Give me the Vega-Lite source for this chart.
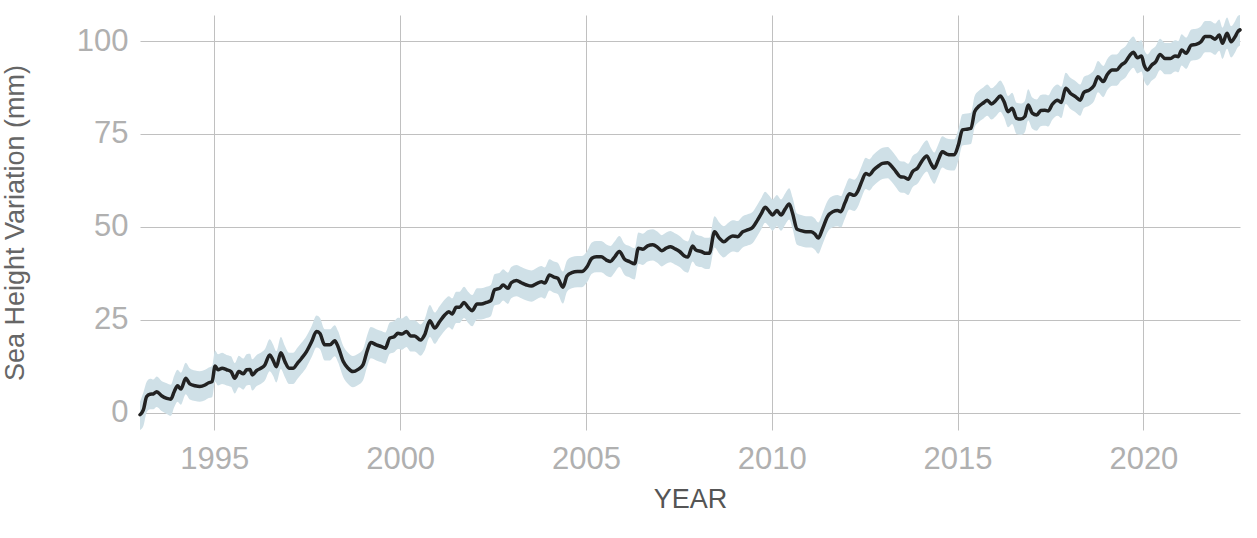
{
  "$schema": "https://vega.github.io/schema/vega-lite/v6.json",
  "width": 1100,
  "height": 415,
  "autosize": {"type": "none"},
  "padding": {"left": 140, "top": 15, "right": 17, "bottom": 93},
  "background": "white",
  "config": {
    "view": {"stroke": null},
    "font": "Liberation Sans",
    "axis": {
      "grid": true,
      "gridColor": "#c0c0c0",
      "gridWidth": 1,
      "domain": false,
      "ticks": false,
      "labelFont": "Liberation Sans",
      "labelFontSize": 31,
      "labelColor": "#b0b0b0",
      "titleFont": "Liberation Sans",
      "titleFontSize": 27,
      "titleFontWeight": "normal"
    }
  },
  "data": {
    "values": [
      {"t": 1993.00, "v": -0.5, "lo": -4.6, "hi": 3.0},
      {"t": 1993.09, "v": 0.8, "lo": -3.5, "hi": 5.5},
      {"t": 1993.18, "v": 4.4, "lo": 0.2, "hi": 8.4},
      {"t": 1993.27, "v": 5.0, "lo": 1.0, "hi": 9.2},
      {"t": 1993.36, "v": 5.1, "lo": 1.0, "hi": 9.0},
      {"t": 1993.45, "v": 5.7, "lo": 1.6, "hi": 9.8},
      {"t": 1993.58, "v": 4.6, "lo": 0.5, "hi": 8.6},
      {"t": 1993.72, "v": 3.9, "lo": -0.3, "hi": 8.0},
      {"t": 1993.83, "v": 3.7, "lo": -0.8, "hi": 7.6},
      {"t": 1993.92, "v": 5.7, "lo": 1.5, "hi": 10.0},
      {"t": 1994.01, "v": 7.3, "lo": 3.0, "hi": 11.6},
      {"t": 1994.10, "v": 6.4, "lo": 2.2, "hi": 10.8},
      {"t": 1994.23, "v": 9.3, "lo": 5.0, "hi": 13.5},
      {"t": 1994.34, "v": 7.8, "lo": 3.6, "hi": 12.0},
      {"t": 1994.48, "v": 7.3, "lo": 3.2, "hi": 11.4},
      {"t": 1994.61, "v": 7.1, "lo": 3.0, "hi": 11.2},
      {"t": 1994.75, "v": 7.5, "lo": 3.4, "hi": 11.6},
      {"t": 1994.85, "v": 8.1, "lo": 4.0, "hi": 12.2},
      {"t": 1994.94, "v": 8.4, "lo": 4.2, "hi": 12.6},
      {"t": 1995.02, "v": 12.6, "lo": 8.4, "hi": 16.8},
      {"t": 1995.10, "v": 11.6, "lo": 7.4, "hi": 15.8},
      {"t": 1995.21, "v": 12.0, "lo": 7.8, "hi": 16.2},
      {"t": 1995.33, "v": 11.6, "lo": 7.4, "hi": 15.6},
      {"t": 1995.45, "v": 11.1, "lo": 7.0, "hi": 15.2},
      {"t": 1995.55, "v": 9.3, "lo": 5.2, "hi": 13.4},
      {"t": 1995.66, "v": 11.1, "lo": 6.9, "hi": 15.4},
      {"t": 1995.78, "v": 10.5, "lo": 6.3, "hi": 14.6},
      {"t": 1995.87, "v": 11.6, "lo": 7.4, "hi": 15.8},
      {"t": 1995.96, "v": 11.7, "lo": 7.5, "hi": 15.9},
      {"t": 1996.02, "v": 10.2, "lo": 6.0, "hi": 14.4},
      {"t": 1996.14, "v": 11.4, "lo": 7.2, "hi": 15.6},
      {"t": 1996.25, "v": 12.0, "lo": 7.8, "hi": 16.2},
      {"t": 1996.36, "v": 12.9, "lo": 8.7, "hi": 17.1},
      {"t": 1996.49, "v": 15.6, "lo": 11.2, "hi": 19.8},
      {"t": 1996.58, "v": 14.2, "lo": 10.0, "hi": 18.4},
      {"t": 1996.67, "v": 12.4, "lo": 8.2, "hi": 16.6},
      {"t": 1996.79, "v": 16.2, "lo": 11.8, "hi": 20.4},
      {"t": 1996.90, "v": 13.8, "lo": 9.6, "hi": 18.0},
      {"t": 1997.01, "v": 12.0, "lo": 7.8, "hi": 16.2},
      {"t": 1997.12, "v": 12.0, "lo": 7.8, "hi": 16.2},
      {"t": 1997.24, "v": 13.4, "lo": 9.2, "hi": 17.6},
      {"t": 1997.35, "v": 14.7, "lo": 10.5, "hi": 18.9},
      {"t": 1997.48, "v": 16.5, "lo": 12.3, "hi": 20.7},
      {"t": 1997.62, "v": 19.2, "lo": 15.0, "hi": 23.4},
      {"t": 1997.75, "v": 21.9, "lo": 17.6, "hi": 26.2},
      {"t": 1997.84, "v": 21.4, "lo": 17.2, "hi": 25.6},
      {"t": 1997.97, "v": 18.3, "lo": 14.1, "hi": 22.5},
      {"t": 1998.11, "v": 18.3, "lo": 14.1, "hi": 22.5},
      {"t": 1998.24, "v": 19.4, "lo": 15.2, "hi": 23.6},
      {"t": 1998.33, "v": 17.8, "lo": 13.6, "hi": 22.0},
      {"t": 1998.47, "v": 13.8, "lo": 9.6, "hi": 18.0},
      {"t": 1998.60, "v": 12.0, "lo": 7.8, "hi": 16.2},
      {"t": 1998.73, "v": 11.1, "lo": 6.9, "hi": 15.3},
      {"t": 1998.87, "v": 11.7, "lo": 7.5, "hi": 15.9},
      {"t": 1999.00, "v": 12.9, "lo": 8.7, "hi": 17.1},
      {"t": 1999.12, "v": 16.9, "lo": 12.7, "hi": 21.1},
      {"t": 1999.21, "v": 18.9, "lo": 14.7, "hi": 23.1},
      {"t": 1999.36, "v": 18.3, "lo": 14.1, "hi": 22.5},
      {"t": 1999.50, "v": 17.8, "lo": 13.6, "hi": 22.0},
      {"t": 1999.60, "v": 17.4, "lo": 13.2, "hi": 21.6},
      {"t": 1999.72, "v": 20.1, "lo": 15.9, "hi": 24.3},
      {"t": 1999.84, "v": 20.5, "lo": 16.3, "hi": 24.7},
      {"t": 1999.94, "v": 21.4, "lo": 17.2, "hi": 25.6},
      {"t": 2000.05, "v": 21.2, "lo": 17.0, "hi": 25.4},
      {"t": 2000.17, "v": 21.9, "lo": 17.7, "hi": 26.1},
      {"t": 2000.28, "v": 20.7, "lo": 16.5, "hi": 24.9},
      {"t": 2000.39, "v": 20.7, "lo": 16.5, "hi": 24.9},
      {"t": 2000.55, "v": 19.6, "lo": 15.4, "hi": 23.8},
      {"t": 2000.66, "v": 21.0, "lo": 16.8, "hi": 25.2},
      {"t": 2000.80, "v": 24.8, "lo": 20.4, "hi": 29.0},
      {"t": 2000.93, "v": 22.8, "lo": 18.6, "hi": 27.0},
      {"t": 2001.06, "v": 24.5, "lo": 20.3, "hi": 28.7},
      {"t": 2001.20, "v": 26.3, "lo": 22.1, "hi": 30.5},
      {"t": 2001.31, "v": 27.2, "lo": 23.0, "hi": 31.4},
      {"t": 2001.40, "v": 26.6, "lo": 22.4, "hi": 30.8},
      {"t": 2001.51, "v": 28.4, "lo": 24.2, "hi": 32.6},
      {"t": 2001.60, "v": 28.4, "lo": 24.2, "hi": 32.6},
      {"t": 2001.72, "v": 29.7, "lo": 25.5, "hi": 33.9},
      {"t": 2001.83, "v": 28.4, "lo": 24.2, "hi": 32.6},
      {"t": 2001.94, "v": 27.5, "lo": 23.3, "hi": 31.7},
      {"t": 2002.07, "v": 29.3, "lo": 25.1, "hi": 33.5},
      {"t": 2002.18, "v": 29.3, "lo": 25.1, "hi": 33.5},
      {"t": 2002.32, "v": 29.7, "lo": 25.5, "hi": 33.9},
      {"t": 2002.44, "v": 30.2, "lo": 26.0, "hi": 34.4},
      {"t": 2002.54, "v": 33.1, "lo": 28.9, "hi": 37.3},
      {"t": 2002.68, "v": 33.5, "lo": 29.3, "hi": 37.7},
      {"t": 2002.77, "v": 34.4, "lo": 30.2, "hi": 38.6},
      {"t": 2002.90, "v": 33.5, "lo": 29.3, "hi": 37.7},
      {"t": 2002.99, "v": 35.0, "lo": 30.8, "hi": 39.2},
      {"t": 2003.13, "v": 35.6, "lo": 31.4, "hi": 39.8},
      {"t": 2003.26, "v": 35.0, "lo": 30.8, "hi": 39.2},
      {"t": 2003.40, "v": 34.4, "lo": 30.2, "hi": 38.6},
      {"t": 2003.53, "v": 34.1, "lo": 29.9, "hi": 38.3},
      {"t": 2003.66, "v": 34.7, "lo": 30.5, "hi": 38.9},
      {"t": 2003.80, "v": 35.3, "lo": 31.1, "hi": 39.5},
      {"t": 2003.89, "v": 34.9, "lo": 30.7, "hi": 39.1},
      {"t": 2004.02, "v": 37.1, "lo": 32.9, "hi": 41.3},
      {"t": 2004.14, "v": 36.5, "lo": 32.3, "hi": 40.7},
      {"t": 2004.24, "v": 36.2, "lo": 32.0, "hi": 40.4},
      {"t": 2004.38, "v": 33.8, "lo": 29.4, "hi": 38.0},
      {"t": 2004.49, "v": 36.8, "lo": 32.6, "hi": 41.0},
      {"t": 2004.62, "v": 37.7, "lo": 33.5, "hi": 41.9},
      {"t": 2004.77, "v": 38.0, "lo": 33.8, "hi": 42.2},
      {"t": 2004.89, "v": 38.0, "lo": 33.8, "hi": 42.2},
      {"t": 2005.03, "v": 39.3, "lo": 35.1, "hi": 43.5},
      {"t": 2005.16, "v": 41.6, "lo": 37.4, "hi": 45.8},
      {"t": 2005.28, "v": 42.0, "lo": 37.8, "hi": 46.2},
      {"t": 2005.41, "v": 42.0, "lo": 37.8, "hi": 46.2},
      {"t": 2005.55, "v": 41.1, "lo": 36.9, "hi": 45.3},
      {"t": 2005.66, "v": 40.7, "lo": 36.5, "hi": 44.9},
      {"t": 2005.77, "v": 41.9, "lo": 37.7, "hi": 46.1},
      {"t": 2005.90, "v": 43.4, "lo": 39.2, "hi": 47.6},
      {"t": 2006.04, "v": 41.3, "lo": 37.1, "hi": 45.5},
      {"t": 2006.17, "v": 40.7, "lo": 36.5, "hi": 44.9},
      {"t": 2006.31, "v": 40.1, "lo": 35.9, "hi": 44.3},
      {"t": 2006.41, "v": 44.3, "lo": 40.1, "hi": 48.5},
      {"t": 2006.53, "v": 44.0, "lo": 39.8, "hi": 48.2},
      {"t": 2006.66, "v": 44.9, "lo": 40.7, "hi": 49.1},
      {"t": 2006.80, "v": 45.2, "lo": 41.0, "hi": 49.4},
      {"t": 2006.93, "v": 44.5, "lo": 40.3, "hi": 48.7},
      {"t": 2007.04, "v": 43.6, "lo": 39.4, "hi": 47.8},
      {"t": 2007.16, "v": 44.3, "lo": 40.1, "hi": 48.5},
      {"t": 2007.27, "v": 44.7, "lo": 40.5, "hi": 48.9},
      {"t": 2007.38, "v": 44.2, "lo": 40.0, "hi": 48.4},
      {"t": 2007.52, "v": 43.4, "lo": 39.2, "hi": 47.6},
      {"t": 2007.65, "v": 42.2, "lo": 38.0, "hi": 46.4},
      {"t": 2007.74, "v": 41.9, "lo": 37.7, "hi": 46.1},
      {"t": 2007.87, "v": 44.9, "lo": 40.7, "hi": 49.1},
      {"t": 2007.96, "v": 43.8, "lo": 39.6, "hi": 48.0},
      {"t": 2008.10, "v": 43.4, "lo": 39.2, "hi": 47.6},
      {"t": 2008.23, "v": 42.9, "lo": 38.7, "hi": 47.1},
      {"t": 2008.32, "v": 42.9, "lo": 38.7, "hi": 47.1},
      {"t": 2008.46, "v": 48.7, "lo": 44.5, "hi": 52.9},
      {"t": 2008.59, "v": 47.0, "lo": 42.8, "hi": 51.2},
      {"t": 2008.71, "v": 46.0, "lo": 41.8, "hi": 50.2},
      {"t": 2008.84, "v": 47.0, "lo": 42.8, "hi": 51.2},
      {"t": 2008.95, "v": 47.6, "lo": 43.4, "hi": 51.8},
      {"t": 2009.08, "v": 47.4, "lo": 43.2, "hi": 51.6},
      {"t": 2009.22, "v": 48.7, "lo": 44.5, "hi": 52.9},
      {"t": 2009.35, "v": 49.2, "lo": 45.0, "hi": 53.4},
      {"t": 2009.49, "v": 49.9, "lo": 45.7, "hi": 54.1},
      {"t": 2009.62, "v": 51.9, "lo": 47.7, "hi": 56.1},
      {"t": 2009.73, "v": 53.8, "lo": 49.6, "hi": 58.0},
      {"t": 2009.82, "v": 55.3, "lo": 51.1, "hi": 59.5},
      {"t": 2009.94, "v": 54.1, "lo": 49.9, "hi": 58.3},
      {"t": 2010.02, "v": 53.2, "lo": 49.0, "hi": 57.4},
      {"t": 2010.14, "v": 54.4, "lo": 50.2, "hi": 58.6},
      {"t": 2010.25, "v": 53.2, "lo": 49.0, "hi": 57.4},
      {"t": 2010.36, "v": 54.8, "lo": 50.6, "hi": 59.0},
      {"t": 2010.47, "v": 56.2, "lo": 52.0, "hi": 60.4},
      {"t": 2010.56, "v": 53.7, "lo": 49.5, "hi": 57.9},
      {"t": 2010.68, "v": 49.4, "lo": 45.2, "hi": 53.6},
      {"t": 2010.79, "v": 49.0, "lo": 44.8, "hi": 53.2},
      {"t": 2010.92, "v": 48.7, "lo": 44.5, "hi": 52.9},
      {"t": 2011.06, "v": 48.7, "lo": 44.5, "hi": 52.9},
      {"t": 2011.16, "v": 48.1, "lo": 43.9, "hi": 52.3},
      {"t": 2011.25, "v": 47.0, "lo": 42.8, "hi": 51.2},
      {"t": 2011.37, "v": 49.6, "lo": 45.4, "hi": 53.8},
      {"t": 2011.50, "v": 52.8, "lo": 48.6, "hi": 57.0},
      {"t": 2011.64, "v": 54.1, "lo": 49.9, "hi": 58.3},
      {"t": 2011.77, "v": 54.4, "lo": 50.2, "hi": 58.6},
      {"t": 2011.86, "v": 54.1, "lo": 49.9, "hi": 58.3},
      {"t": 2011.97, "v": 56.5, "lo": 52.3, "hi": 60.7},
      {"t": 2012.09, "v": 58.9, "lo": 54.7, "hi": 63.1},
      {"t": 2012.22, "v": 58.5, "lo": 54.3, "hi": 62.7},
      {"t": 2012.31, "v": 59.5, "lo": 55.3, "hi": 63.7},
      {"t": 2012.42, "v": 62.2, "lo": 58.0, "hi": 66.4},
      {"t": 2012.53, "v": 64.4, "lo": 60.2, "hi": 68.6},
      {"t": 2012.62, "v": 64.0, "lo": 59.8, "hi": 68.2},
      {"t": 2012.74, "v": 65.3, "lo": 61.1, "hi": 69.5},
      {"t": 2012.87, "v": 66.4, "lo": 62.2, "hi": 70.6},
      {"t": 2012.98, "v": 67.1, "lo": 62.9, "hi": 71.3},
      {"t": 2013.12, "v": 67.3, "lo": 63.1, "hi": 71.5},
      {"t": 2013.22, "v": 66.4, "lo": 62.2, "hi": 70.6},
      {"t": 2013.34, "v": 64.9, "lo": 60.7, "hi": 69.1},
      {"t": 2013.46, "v": 63.5, "lo": 59.3, "hi": 67.7},
      {"t": 2013.56, "v": 63.4, "lo": 59.2, "hi": 67.6},
      {"t": 2013.67, "v": 62.8, "lo": 58.6, "hi": 67.0},
      {"t": 2013.79, "v": 64.9, "lo": 60.7, "hi": 69.1},
      {"t": 2013.92, "v": 65.8, "lo": 61.6, "hi": 70.0},
      {"t": 2014.06, "v": 68.0, "lo": 63.8, "hi": 72.2},
      {"t": 2014.17, "v": 69.1, "lo": 64.9, "hi": 73.3},
      {"t": 2014.28, "v": 67.1, "lo": 62.9, "hi": 71.3},
      {"t": 2014.37, "v": 65.8, "lo": 61.6, "hi": 70.0},
      {"t": 2014.48, "v": 68.0, "lo": 63.8, "hi": 72.2},
      {"t": 2014.59, "v": 70.2, "lo": 66.0, "hi": 74.4},
      {"t": 2014.71, "v": 69.6, "lo": 65.4, "hi": 73.8},
      {"t": 2014.82, "v": 69.4, "lo": 65.2, "hi": 73.6},
      {"t": 2014.91, "v": 69.4, "lo": 65.2, "hi": 73.6},
      {"t": 2015.02, "v": 72.0, "lo": 67.8, "hi": 76.2},
      {"t": 2015.13, "v": 76.1, "lo": 71.9, "hi": 80.3},
      {"t": 2015.25, "v": 76.3, "lo": 72.1, "hi": 80.5},
      {"t": 2015.36, "v": 76.5, "lo": 72.3, "hi": 80.7},
      {"t": 2015.46, "v": 81.0, "lo": 76.8, "hi": 85.2},
      {"t": 2015.58, "v": 82.5, "lo": 78.3, "hi": 86.7},
      {"t": 2015.70, "v": 83.4, "lo": 79.2, "hi": 87.6},
      {"t": 2015.80, "v": 84.1, "lo": 79.9, "hi": 88.3},
      {"t": 2015.91, "v": 83.1, "lo": 78.9, "hi": 87.3},
      {"t": 2016.03, "v": 84.0, "lo": 79.8, "hi": 88.2},
      {"t": 2016.15, "v": 85.2, "lo": 81.0, "hi": 89.4},
      {"t": 2016.25, "v": 83.7, "lo": 79.5, "hi": 87.9},
      {"t": 2016.36, "v": 81.0, "lo": 76.8, "hi": 85.2},
      {"t": 2016.47, "v": 81.9, "lo": 77.7, "hi": 86.1},
      {"t": 2016.59, "v": 79.2, "lo": 75.0, "hi": 83.4},
      {"t": 2016.70, "v": 79.0, "lo": 74.8, "hi": 83.2},
      {"t": 2016.81, "v": 79.7, "lo": 75.5, "hi": 83.9},
      {"t": 2016.90, "v": 82.8, "lo": 78.6, "hi": 87.0},
      {"t": 2017.01, "v": 80.6, "lo": 76.4, "hi": 84.8},
      {"t": 2017.13, "v": 80.1, "lo": 75.9, "hi": 84.3},
      {"t": 2017.24, "v": 81.3, "lo": 77.1, "hi": 85.5},
      {"t": 2017.35, "v": 81.4, "lo": 77.2, "hi": 85.6},
      {"t": 2017.44, "v": 81.2, "lo": 77.0, "hi": 85.4},
      {"t": 2017.55, "v": 83.0, "lo": 78.8, "hi": 87.2},
      {"t": 2017.69, "v": 84.1, "lo": 79.9, "hi": 88.3},
      {"t": 2017.79, "v": 83.5, "lo": 79.3, "hi": 87.7},
      {"t": 2017.91, "v": 87.3, "lo": 83.1, "hi": 91.5},
      {"t": 2018.04, "v": 85.9, "lo": 81.7, "hi": 90.1},
      {"t": 2018.18, "v": 85.0, "lo": 80.8, "hi": 89.2},
      {"t": 2018.30, "v": 84.1, "lo": 79.9, "hi": 88.3},
      {"t": 2018.40, "v": 86.2, "lo": 82.0, "hi": 90.4},
      {"t": 2018.54, "v": 86.8, "lo": 82.6, "hi": 91.0},
      {"t": 2018.67, "v": 88.0, "lo": 83.8, "hi": 92.2},
      {"t": 2018.78, "v": 90.4, "lo": 86.2, "hi": 94.6},
      {"t": 2018.92, "v": 89.1, "lo": 84.9, "hi": 93.3},
      {"t": 2019.03, "v": 91.0, "lo": 86.8, "hi": 95.2},
      {"t": 2019.16, "v": 92.2, "lo": 88.0, "hi": 96.4},
      {"t": 2019.28, "v": 92.2, "lo": 88.0, "hi": 96.4},
      {"t": 2019.40, "v": 93.5, "lo": 89.3, "hi": 97.7},
      {"t": 2019.52, "v": 94.4, "lo": 90.2, "hi": 98.6},
      {"t": 2019.64, "v": 96.2, "lo": 92.0, "hi": 100.4},
      {"t": 2019.73, "v": 97.0, "lo": 92.8, "hi": 101.2},
      {"t": 2019.84, "v": 95.5, "lo": 91.3, "hi": 99.7},
      {"t": 2019.95, "v": 96.0, "lo": 91.8, "hi": 100.2},
      {"t": 2020.02, "v": 93.5, "lo": 89.3, "hi": 97.7},
      {"t": 2020.11, "v": 92.2, "lo": 88.0, "hi": 96.4},
      {"t": 2020.22, "v": 93.5, "lo": 89.3, "hi": 97.7},
      {"t": 2020.33, "v": 94.4, "lo": 90.2, "hi": 98.6},
      {"t": 2020.45, "v": 96.4, "lo": 92.2, "hi": 100.6},
      {"t": 2020.58, "v": 95.3, "lo": 91.1, "hi": 99.5},
      {"t": 2020.73, "v": 95.3, "lo": 91.1, "hi": 99.5},
      {"t": 2020.85, "v": 96.0, "lo": 91.8, "hi": 100.2},
      {"t": 2020.94, "v": 95.8, "lo": 91.6, "hi": 100.0},
      {"t": 2021.03, "v": 97.6, "lo": 93.4, "hi": 101.8},
      {"t": 2021.15, "v": 96.7, "lo": 92.5, "hi": 100.9},
      {"t": 2021.29, "v": 98.9, "lo": 94.7, "hi": 103.1},
      {"t": 2021.42, "v": 99.1, "lo": 94.9, "hi": 103.3},
      {"t": 2021.55, "v": 99.8, "lo": 95.6, "hi": 104.0},
      {"t": 2021.66, "v": 101.2, "lo": 97.0, "hi": 105.4},
      {"t": 2021.80, "v": 101.2, "lo": 97.0, "hi": 105.4},
      {"t": 2021.93, "v": 100.5, "lo": 96.3, "hi": 104.7},
      {"t": 2022.04, "v": 101.6, "lo": 97.4, "hi": 105.8},
      {"t": 2022.13, "v": 99.4, "lo": 95.2, "hi": 103.6},
      {"t": 2022.25, "v": 102.1, "lo": 97.9, "hi": 106.3},
      {"t": 2022.36, "v": 99.8, "lo": 95.6, "hi": 104.0},
      {"t": 2022.47, "v": 101.2, "lo": 97.0, "hi": 105.4},
      {"t": 2022.54, "v": 102.5, "lo": 98.3, "hi": 106.7},
      {"t": 2022.60, "v": 103.0, "lo": 98.8, "hi": 107.0}
    ]
  },
  "encoding": {
    "x": {
      "field": "t",
      "type": "quantitative",
      "scale": {"domain": [1993.0, 2022.6], "nice": false, "zero": false},
      "axis": {
        "title": "YEAR",
        "titleColor": "#555555",
        "values": [1995, 2000, 2005, 2010, 2015, 2020],
        "format": "d",
        "labelPadding": 14,
        "titlePadding": 12
      }
    }
  },
  "layer": [
    {
      "mark": {"type": "area", "color": "#cfe0e7", "opacity": 1, "interpolate": "monotone"},
      "encoding": {
        "y": {
          "field": "lo",
          "type": "quantitative",
          "scale": {"domain": [-4.6, 107], "nice": false, "zero": false},
          "axis": {
            "title": "Sea Height Variation (mm)",
            "titleColor": "#666666",
            "values": [0, 25, 50, 75, 100],
            "labelPadding": 12,
            "titlePadding": 47
          }
        },
        "y2": {"field": "hi"}
      }
    },
    {
      "mark": {"type": "line", "color": "#222222", "strokeWidth": 3.5, "interpolate": "monotone", "strokeJoin": "round", "strokeCap": "round"},
      "encoding": {
        "y": {"field": "v", "type": "quantitative"}
      }
    }
  ]
}
